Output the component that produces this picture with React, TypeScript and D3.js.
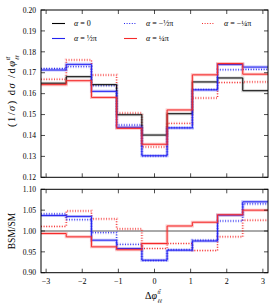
import React from "react";
import * as d3 from "d3";

// bin edges in delta phi (9 bins over [-pi, pi])
const binEdges = [-3.1416, -2.4435, -1.7453, -1.0472, -0.3491, 0.3491, 1.0472, 1.7453, 2.4435, 3.1416];

// top panel: normalised distribution
const alpha0 = [0.165, 0.1681, 0.1643, 0.1499, 0.1402, 0.1504, 0.1656, 0.1675, 0.1614];
const alphaHalf = [0.1713, 0.174, 0.1611, 0.1439, 0.1303, 0.1436, 0.1618, 0.1739, 0.1727];
const alphaMinusHalf = [0.172, 0.1729, 0.1638, 0.145, 0.1302, 0.1437, 0.162, 0.1714, 0.1716];
const alphaQuarter = [0.1643, 0.1662, 0.1582, 0.1434, 0.1358, 0.1522, 0.169, 0.1744, 0.1693];
const alphaMinusQuarter = [0.1669, 0.1761, 0.1689, 0.1507, 0.1345, 0.1458, 0.1579, 0.1653, 0.1656];

// bottom panel: BSM/SM
const ratioHalf = [1.037, 1.035, 0.978, 0.958, 0.93, 0.954, 0.976, 1.038, 1.07];
const ratioMinusHalf = [1.041, 1.027, 0.996, 0.968, 0.929, 0.955, 0.978, 1.024, 1.065];
const ratioQuarter = [0.994, 0.986, 0.962, 0.955, 0.97, 1.012, 1.021, 1.039, 1.05];
const ratioMinusQuarter = [1.011, 1.048, 1.029, 1.005, 0.958, 0.97, 0.953, 0.986, 1.026];

const xTicks = [-3, -2, -1, 0, 1, 2, 3];
const topTicks = [0.12, 0.13, 0.14, 0.15, 0.16, 0.17, 0.18, 0.19, 0.2];
const bottomTicks = [0.9, 0.95, 1.0, 1.05, 1.1];

const BLUE = "#2323f0";
const RED = "#f52a2a";
const DOT = "1 1.6";
const font = "'Liberation Serif', 'DejaVu Serif', serif";

const L = 41, R = 268;
const TOP = [10, 177.3];
const BOT = [189.3, 272.7];

function StepLine({values, x, y, color, dash, bandColor}) {
  const pts = binEdges.map((e, i) => [e, values[Math.min(i, values.length - 1)]]);
  const line = d3.line().x(d => x(d[0])).y(d => y(d[1])).curve(d3.curveStepAfter);
  const d = line(pts);
  return (
    <g fill="none">
      <path d={d} stroke={bandColor || color} strokeOpacity={0.28} strokeWidth={3} strokeDasharray={dash} />
      <path d={d} stroke={color} strokeWidth={1} strokeDasharray={dash} />
    </g>
  );
}

function Frame({x, y, yTicks, fmt, showLabels}) {
  const [y0, y1] = y.range();
  return (
    <g>
      {xTicks.map(t => (
        <g key={t}>
          <line x1={x(t)} x2={x(t)} y1={y0} y2={y0 - 4} stroke="#000" strokeWidth={0.7} />
          <line x1={x(t)} x2={x(t)} y1={y1} y2={y1 + 4} stroke="#000" strokeWidth={0.7} />
          {showLabels && (
            <text x={x(t)} y={y0 + 11} textAnchor="middle" fontSize={8} fontFamily={font}>
              {t < 0 ? "\u2212" + Math.abs(t) : t}
            </text>
          )}
        </g>
      ))}
      {yTicks.map(t => (
        <g key={t}>
          <line x1={L} x2={L + 4} y1={y(t)} y2={y(t)} stroke="#000" strokeWidth={0.7} />
          <line x1={R} x2={R - 4} y1={y(t)} y2={y(t)} stroke="#000" strokeWidth={0.7} />
          <text x={36} y={y(t) + 2.7} textAnchor="end" fontSize={7.6} fontFamily={font}>{fmt(t)}</text>
        </g>
      ))}
      <rect x={L} y={y1} width={R - L} height={y0 - y1} fill="none" stroke="#000" strokeWidth={1} />
    </g>
  );
}

export default function App() {
  const x = d3.scaleLinear().domain([-Math.PI, Math.PI]).range([L, R]);
  const yTop = d3.scaleLinear().domain([0.12, 0.2]).range([TOP[1], TOP[0]]);
  const yBot = d3.scaleLinear().domain([0.9, 1.1]).range([BOT[1], BOT[0]]);
  const f2 = d3.format(".2f");

  const legend = [
    {label: "0", color: "#000", dash: undefined, col: 0, row: 0},
    {label: "\u2212\u00bd\u03c0", color: BLUE, dash: DOT, col: 1, row: 0},
    {label: "\u2212\u00bc\u03c0", color: RED, dash: DOT, col: 2, row: 0},
    {label: "\u00bd\u03c0", color: BLUE, dash: undefined, col: 0, row: 1},
    {label: "\u00bc\u03c0", color: RED, dash: undefined, col: 1, row: 1},
  ];
  const colX = [52, 124, 202];
  const rowY = [23.5, 38.5];

  return (
    <svg width={274} height={308} style={{position: "absolute", left: 0, top: 0, background: "#fff"}}>
      <rect width={274} height={308} fill="#fff" />
      <clipPath id="ct"><rect x={L} y={TOP[0]} width={R - L} height={TOP[1] - TOP[0]} /></clipPath>
      <clipPath id="cb"><rect x={L} y={BOT[0]} width={R - L} height={BOT[1] - BOT[0]} /></clipPath>

      <g clipPath="url(#ct)">
        <StepLine values={alphaMinusQuarter} x={x} y={yTop} color={RED} dash={DOT} />
        <StepLine values={alphaMinusHalf} x={x} y={yTop} color={BLUE} dash={DOT} />
        <StepLine values={alpha0} x={x} y={yTop} color="#000" bandColor="#666" />
        <StepLine values={alphaHalf} x={x} y={yTop} color={BLUE} />
        <StepLine values={alphaQuarter} x={x} y={yTop} color={RED} />
      </g>
      <Frame x={x} y={yTop} yTicks={topTicks} fmt={f2} showLabels={false} />

      <g clipPath="url(#cb)">
        <line x1={L} x2={R} y1={yBot(1)} y2={yBot(1)} stroke="#555" strokeWidth={1} />
        <StepLine values={ratioMinusQuarter} x={x} y={yBot} color={RED} dash={DOT} />
        <StepLine values={ratioMinusHalf} x={x} y={yBot} color={BLUE} dash={DOT} />
        <StepLine values={ratioHalf} x={x} y={yBot} color={BLUE} />
        <StepLine values={ratioQuarter} x={x} y={yBot} color={RED} />
      </g>
      <Frame x={x} y={yBot} yTicks={bottomTicks} fmt={f2} showLabels={true} />

      {legend.map(l => (
        <g key={l.label + l.row}>
          <line x1={colX[l.col]} x2={colX[l.col] + 13} y1={rowY[l.row]} y2={rowY[l.row]} stroke={l.color} strokeWidth={1.1} strokeDasharray={l.dash} />
          <text x={colX[l.col] + 22} y={rowY[l.row] + 2.8} fontSize={8} fontFamily={font}>
            <tspan fontStyle="italic">{"\u03b1"}</tspan>{" = " + l.label}
          </text>
        </g>
      ))}

      {/* y label, top panel */}
      <g transform="translate(15,127) rotate(-90)" fontFamily={font}>
        <text x={0} y={0} fontSize={10.5} textLength={66} lengthAdjust="spacing">
          (1/<tspan fontStyle="italic">{"\u03c3"}</tspan>) d<tspan fontStyle="italic">{"\u03c3"}</tspan> /d<tspan fontStyle="italic">{"\u03c6"}</tspan>
        </text>
        <text x={67} y={-5} fontSize={5.5} fontStyle="italic">{"tt\u0304"}</text>
        <text x={67} y={3.5} fontSize={5.5} fontStyle="italic">{"\u2113\u2113"}</text>
      </g>
      <text transform={`translate(15,${(BOT[0] + BOT[1]) / 2}) rotate(-90)`} textAnchor="middle" fontSize={9.5} fontFamily={font}>
        BSM/SM
      </text>
      {/* x label */}
      <g transform="translate(145,299)" fontFamily={font}>
        <text x={0} y={0} fontSize={10}>
          {"\u0394"}<tspan fontStyle="italic">{"\u03c6"}</tspan>
        </text>
        <text x={12.5} y={-5.5} fontSize={5.5} fontStyle="italic">{"tt\u0304"}</text>
        <text x={12.5} y={3.5} fontSize={5.5} fontStyle="italic">{"\u2113\u2113"}</text>
      </g>
    </svg>
  );
}
